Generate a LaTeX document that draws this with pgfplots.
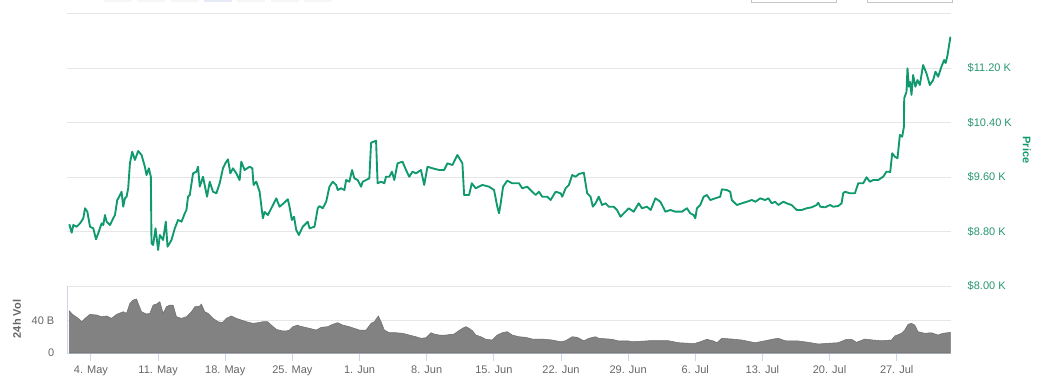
\documentclass[border=0pt]{standalone}
\usepackage{fontspec}
\setmainfont{Liberation Sans}
\usepackage{pgfplots}
\usepackage{pgfplotstable}
\pgfplotsset{compat=1.18}
\definecolor{pgreen}{RGB}{16,153,110}
\definecolor{plabel}{RGB}{40,150,110}
\definecolor{gridc}{RGB}{230,230,230}
\definecolor{axc}{RGB}{204,214,235}
\definecolor{txtc}{RGB}{102,102,102}
\definecolor{volc}{RGB}{130,130,130}
\definecolor{btn}{RGB}{246,246,246}
\definecolor{btnb}{RGB}{230,234,246}

\pgfplotstableread{
d p
-2.26 8906
-2.01 8782
-1.84 8895
-1.49 8870
-1.14 8920
-0.80 8994
-0.62 9141
-0.38 9091
-0.10 8870
0.24 8847
0.52 8686
0.76 8774
1.11 8920
1.28 8895
1.46 9042
1.63 8944
1.98 8895
2.32 8994
2.50 9042
2.74 9262
2.94 9311
3.19 9384
3.36 9164
3.54 9287
3.71 9311
3.88 9434
4.06 9801
4.30 9971
4.58 9850
4.92 9982
5.27 9923
5.62 9751
5.79 9629
6.03 9728
6.24 9604
6.31 8627
6.48 8602
6.73 8847
7.00 8528
7.18 8749
7.52 8675
7.80 8944
7.98 8577
8.39 8675
8.74 8847
9.08 8969
9.44 8944
9.78 9067
9.95 9116
10.12 9311
10.30 9336
10.64 9654
10.99 9678
11.16 9751
11.34 9458
11.68 9604
12.10 9311
12.38 9531
12.72 9384
13.07 9361
13.42 9508
13.76 9728
14.01 9801
14.28 9860
14.53 9654
14.80 9728
15.15 9654
15.50 9556
15.67 9825
16.02 9703
16.54 9751
16.82 9728
16.95 9483
17.23 9531
17.58 9384
17.92 8994
18.10 9086
18.44 9042
18.80 9141
19.32 9287
19.66 9164
20.08 9214
20.52 9273
20.70 9164
20.94 8969
21.17 9017
21.40 8822
21.67 8749
22.08 8870
22.60 8944
22.78 8847
23.30 8870
23.64 9141
23.82 9174
24.16 9141
24.52 9237
24.86 9458
25.21 9531
25.56 9483
25.73 9409
26.07 9434
26.42 9409
26.60 9556
26.94 9531
27.22 9703
27.46 9581
27.80 9556
28.16 9458
28.33 9531
28.68 9556
29.02 9581
29.20 10103
29.72 10133
29.88 9508
30.24 9531
30.58 9508
30.76 9604
31.10 9604
31.38 9678
31.62 9556
31.96 9801
32.48 9825
32.84 9703
33.18 9604
33.52 9678
33.88 9654
34.40 9703
34.74 9483
35.08 9751
35.60 9728
36.30 9703
36.82 9703
37.16 9801
37.68 9776
38.20 9923
38.72 9801
38.90 9336
39.42 9336
39.70 9508
40.11 9434
40.80 9483
41.50 9458
42.02 9409
42.36 9164
42.54 9067
42.72 9218
42.96 9458
43.40 9546
43.92 9508
44.62 9508
44.96 9434
45.48 9458
46.00 9384
46.36 9336
46.70 9384
47.04 9311
47.56 9311
47.92 9262
48.44 9384
48.96 9361
49.13 9311
49.48 9434
49.82 9483
50.17 9629
50.52 9604
50.86 9644
51.38 9663
51.56 9508
51.73 9361
52.08 9311
52.32 9164
52.60 9214
52.94 9311
53.28 9189
53.64 9214
53.98 9164
54.50 9164
54.84 9116
55.20 9017
55.72 9091
56.06 9141
56.58 9091
57.10 9214
57.44 9141
57.96 9164
58.35 9116
58.84 9287
59.36 9237
59.71 9141
59.88 9091
60.40 9116
60.92 9091
61.61 9091
62.13 9141
62.48 9067
62.83 9042
63.00 8994
63.17 9141
63.52 9189
63.87 9311
64.21 9336
64.56 9262
65.08 9287
65.60 9311
65.77 9419
66.29 9409
66.64 9384
66.81 9262
67.33 9189
67.85 9214
68.37 9237
68.89 9262
69.28 9237
69.76 9287
70.28 9262
70.62 9287
70.97 9214
71.32 9237
71.66 9189
72.18 9237
72.52 9214
73.04 9189
73.57 9116
74.09 9116
74.61 9141
75.13 9155
75.65 9189
75.82 9223
76.03 9164
76.52 9155
77.04 9189
77.38 9164
77.90 9174
78.25 9214
78.42 9361
78.60 9384
79.12 9361
79.64 9361
79.99 9508
80.51 9508
80.85 9596
81.20 9531
81.55 9556
82.07 9556
82.59 9604
82.93 9678
83.11 9678
83.32 9673
83.53 9948
83.81 9898
84.08 9875
84.33 10217
84.57 10192
84.75 10338
84.78 10755
85.02 10852
85.12 11196
85.27 10925
85.40 10995
85.54 10804
85.71 11097
85.95 10925
86.16 11024
86.41 10950
86.75 11244
87.10 11122
87.45 10950
87.80 11024
88.04 11146
88.32 11072
88.66 11219
88.94 11317
89.10 11273
89.30 11391
89.60 11659
}\pricetable

\pgfplotstableread{
d v
-2.25 51.4
-1.84 46.5
-1.32 42.4
-0.97 38.3
-0.62 42.4
-0.10 47.3
0.59 46.5
1.11 44.4
1.63 45.3
2.15 42.4
2.67 47.3
3.36 50.5
3.71 48.6
4.06 60.8
4.40 64.8
4.75 66.1
4.92 60.8
5.27 50.5
5.79 47.7
6.14 48.6
6.48 58.7
6.83 59.9
7.18 62.8
7.52 48.6
7.87 56.6
8.22 58.7
8.56 58.7
8.91 44.4
9.43 42.4
9.95 44.4
10.47 50.5
10.82 56.6
11.34 57.5
11.51 59.9
11.86 50.5
12.20 48.6
12.72 42.4
13.24 38.3
13.70 37.1
14.11 42.4
14.63 45.3
15.15 42.4
15.67 40.4
16.19 38.3
16.88 36.3
17.40 37.1
17.92 38.3
18.41 38.3
18.80 34.2
19.31 29.0
19.83 27.3
20.35 26.9
20.70 28.1
21.04 32.2
21.56 34.2
21.74 33.0
22.78 30.2
23.48 28.1
24.00 31.4
24.68 32.2
25.20 35.1
25.72 37.1
26.24 34.2
26.94 32.2
27.46 30.2
27.98 28.1
28.68 28.1
29.20 36.3
29.54 38.3
29.96 45.3
30.24 38.3
30.58 28.1
31.10 24.8
31.80 24.8
32.48 24.1
33.18 22.0
33.88 19.9
34.40 18.0
34.92 18.7
35.44 24.8
35.78 23.2
36.30 22.0
37.00 22.0
37.86 23.2
38.20 26.1
38.72 30.2
39.08 32.2
39.42 30.2
39.76 27.3
40.12 22.0
40.64 19.9
41.16 16.8
41.84 15.9
42.36 22.0
42.88 24.8
43.40 26.1
43.92 22.0
44.62 19.9
45.32 19.2
46.00 17.1
47.04 17.1
48.08 15.9
48.96 13.8
49.48 15.0
50.17 19.9
50.68 19.2
51.38 15.0
51.90 18.0
52.60 19.9
52.94 18.0
54.32 16.8
55.02 14.7
56.06 14.7
56.40 13.8
57.80 14.7
58.14 15.0
60.22 15.0
61.26 12.6
62.30 11.9
63.00 11.9
63.52 13.8
64.21 16.8
64.90 14.7
65.25 12.6
65.77 18.0
66.81 17.1
67.85 15.9
68.72 13.8
69.24 12.6
70.28 15.0
71.14 17.1
71.66 18.0
72.36 15.0
73.74 14.7
74.78 13.1
75.82 11.0
76.86 11.9
77.90 12.6
78.77 16.8
79.29 16.8
79.81 13.1
80.68 17.1
81.54 15.9
82.41 15.0
83.45 15.9
83.80 20.8
84.49 24.1
84.84 28.1
85.18 35.1
85.53 36.3
85.88 34.2
86.22 26.1
86.92 24.1
87.61 24.8
88.30 22.0
88.82 24.1
89.60 25.3
}\voltable

\begin{document}
\begin{tikzpicture}[x=1pt,y=1pt]
\path[use as bounding box] (0,0) rectangle (786,287.25);
% partially visible buttons at the top
\foreach \a/\b in {77.7/98.8,102.8/123.8,127.9/148.9,177.8/198.8,203.3/224.3,228/249}{
  \fill[btn] (\a,285.75) rectangle (\b,290);
}
\fill[btnb] (153,285.75) rectangle (174,290);
\draw[gray!45, fill=white] (563.25,285.2) rectangle (627,290);
\draw[gray!45, fill=white] (650.25,285.2) rectangle (714,290);

\begin{axis}[at={(50.25pt,72.75pt)}, anchor=south west, scale only axis,
  width=663pt, height=204.375pt,
  xmin=-2.5, xmax=89.66, ymin=8000, ymax=12000,
  scaled x ticks=false, scaled y ticks=false,
  axis line style={draw=none},
  xtick=\empty,
  ytick={8000,8800,9600,10400,11200,12000},
  yticklabels={\$8.00 K,\$8.80 K,\$9.60 K,\$10.40 K,\$11.20 K,{}},
  yticklabel pos=right,
  ymajorgrids, grid style={gridc, line width=0.75pt},
  major tick length=0pt,
  yticklabel style={font=\fontsize{8.25}{10}\selectfont, text=plabel, anchor=west, xshift=9pt},
  clip=true]
\addplot[pgreen, line width=1.4pt, line join=round] table[x=d, y=p] {\pricetable};
\end{axis}

\begin{axis}[at={(50.25pt,22.5pt)}, anchor=south west, scale only axis,
  width=663pt, height=50.25pt,
  xmin=-2.5, xmax=89.66, ymin=0, ymax=82,
  scaled x ticks=false, scaled y ticks=false,
  axis x line*=bottom, axis y line*=left,
  axis line style={axc, line width=0.75pt},
  xtick={0,7,...,84},
  xticklabels={4. May,11. May,18. May,25. May,1. Jun,8. Jun,15. Jun,22. Jun,29. Jun,6. Jul,13. Jul,20. Jul,27. Jul},
  ytick={0,40}, yticklabels={0,40 B},
  ymajorgrids, grid style={gridc, line width=0.75pt},
  tick align=outside, major tick length=6pt,
  xtick style={axc, line width=0.75pt},
  ytick style={draw=none},
  xticklabel style={font=\fontsize{8.25}{10}\selectfont, text=txtc},
  yticklabel style={font=\fontsize{8.25}{10}\selectfont, text=txtc, anchor=east},
  clip=true]
\addplot[fill=volc, draw=volc!85!black, line width=0.4pt] table[x=d, y=v] {\voltable} \closedcycle;
\end{axis}

\node[rotate=90, font=\bfseries\fontsize{8.25}{10}\selectfont, text=txtc] at (12.75,48) {24h Vol};
\node[rotate=-90, font=\bfseries\fontsize{8.25}{10}\selectfont, text=pgreen] at (770,174.75) {Price};
\end{tikzpicture}
\end{document}
